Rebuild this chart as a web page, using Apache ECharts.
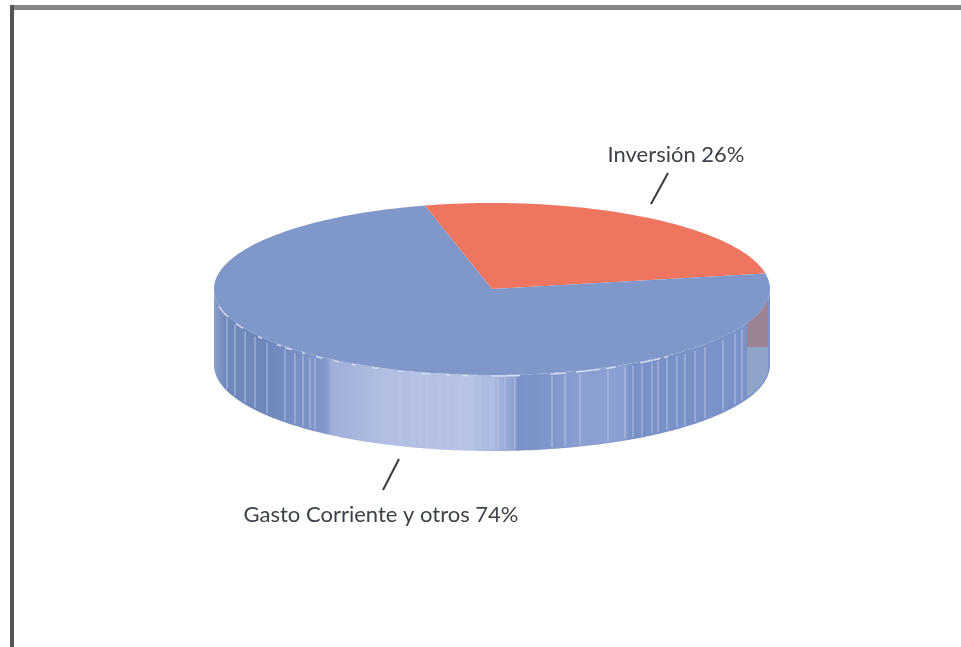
<!DOCTYPE html>
<html>
<head>
<meta charset="utf-8">
<style>
html,body{margin:0;padding:0;background:#fff;overflow:hidden}
#c{width:961px;height:647px;filter:blur(0.7px)}
</style>
<script src="https://cdn.jsdelivr.net/npm/echarts@6/dist/echarts.min.js"></script>
</head>
<body>
<div id="c"></div>
<script>
const categories = ["Inversión", "Gasto Corriente y otros"];
const shares = [26, 74];

// Layout and styling
const CX = 492, CY = 289, RX = 278, RY = 86, DEPTH = 76, START_DEG = -14;
const topColors = ["#ee7560", "#7f97c9"];
const labelAnchors = [
  {x: 676, y: 155, line: [668, 173, 651, 204]},
  {x: 381, y: 515, line: [399, 459, 383, 490]}
];
const bandStops = [
  [214,"#8a9fcb"],[226,"#7088b9"],[265,"#6e87ba"],[300,"#7990c4"],[326,"#8298ca"],
  [332,"#a0b0d9"],[356,"#a6b5dc"],[385,"#b2bfe3"],[470,"#b6c3e6"],[495,"#a6b6df"],
  [514,"#8ea2d2"],[518,"#7a91c8"],[550,"#7f96ca"],[580,"#8b9fd1"],[625,"#8a9fd1"],
  [630,"#7a91c7"],[770,"#7b92c8"]
];
const stripeXs = [227,235,245,255,267,285,295,303,310,315,400,413,420,427,440,448,460,470,480,490,
  493,498,505,515,552,565,580,608,625,633,642,652,658,667,677,685,695,705,723,735,742];
const edgeDashes = [[219,228],[236,243],[258,262],[277,281],[285,292],[302,305],[316,322],[334,339],[352,356],[372,378],
  [398,404],[422,430],[446,450],[462,468],[491,520],[550,566],[576,600],[606,616],[640,660],[664,668]];

const front = x => CY + RY * Math.sqrt(Math.max(0, 1 - ((x - CX) / RX) ** 2));
const pt = deg => {
  const r = deg * Math.PI / 180;
  return [CX + RX * Math.sin(r), CY - RY * Math.cos(r)];
};
const total = shares.reduce((a, b) => a + b, 0);

function arcPoints(a, b, dy) {
  const pts = [];
  const n = Math.ceil(Math.abs(b - a));
  for (let i = 0; i <= n; i++) {
    const p = pt(a + (b - a) * i / n);
    pts.push([p[0], p[1] + (dy || 0)]);
  }
  return pts;
}

function renderItem(params, api) {
  const i = params.dataIndex;
  let before = 0;
  for (let k = 0; k < i; k++) before += shares[k];
  const a0 = START_DEG + before / total * 360;
  const a1 = a0 + api.value(0) / total * 360;
  const children = [];

  // visible rim: part of the slice that faces the viewer (90..270 deg)
  const s0 = Math.max(a0, 90), s1 = Math.min(a1, 270);
  if (s1 > s0) {
    const w = 770 - 214;
    children.push({
      type: "polygon",
      shape: {points: arcPoints(s0, s1, 0).concat(arcPoints(s1, s0, DEPTH))},
      style: {fill: {
        type: "linear", x: 214, y: 0, x2: 770, y2: 0, global: true,
        colorStops: bandStops.map(b => ({offset: (b[0] - 214) / w, color: b[1]}))
      }}
    });
    stripeXs.forEach(x => {
      const y = front(x);
      children.push({type: "line", shape: {x1: x, y1: y + 3, x2: x, y2: y + DEPTH - 2},
        style: {stroke: "#b9c6ea", lineWidth: 1.4, opacity: 0.65}});
    });
    edgeDashes.forEach(d => {
      const pts = [];
      for (let x = d[0]; x <= d[1]; x++) pts.push([x, front(x) + 1]);
      children.push({type: "polyline", shape: {points: pts},
        style: {stroke: "#d3dcf2", lineWidth: 1.5, fill: null}});
    });
  } else {
    // slice colour that shows through the rim at the right
    const up = [], mid = [];
    for (let x = 747; x <= 768; x += 3) { up.push([x, front(x)]); mid.push([x, 347]); }
    children.push({type: "polygon", z2: 5, shape: {points: up.concat(mid.reverse())},
      style: {fill: "#a0818f", opacity: 0.9}});
    const lo = [];
    const base = [];
    for (let x = 747; x <= 768; x += 3) { lo.push([x, 347]); base.push([x, front(x) + DEPTH - 2]); }
    children.push({type: "polygon", z2: 5, shape: {points: lo.concat(base.reverse())},
      style: {fill: "#93a7c9", opacity: 0.85}});
  }

  // top face
  children.push({
    type: "polygon", z2: 3,
    shape: {points: [[CX, CY]].concat(arcPoints(a0, a1, 0))},
    style: {fill: api.visual("color")}
  });

  // label and leader
  const la = labelAnchors[i];
  children.push({type: "line", z2: 6,
    shape: {x1: la.line[0], y1: la.line[1], x2: la.line[2], y2: la.line[3]},
    style: {stroke: "#3b3b3b", lineWidth: 2}});
  children.push({type: "text", z2: 6, style: {
    x: la.x, y: la.y, text: categories[i] + " " + api.value(0) + "%",
    fill: "#3c4248", font: "22px Lato, 'Open Sans', sans-serif",
    align: "center", verticalAlign: "middle"
  }});
  return {type: "group", children};
}

const chart = echarts.init(document.getElementById("c"), null, {renderer: "canvas"});
chart.setOption({
  animation: false,
  backgroundColor: "#ffffff",
  graphic: [
    {type: "rect", shape: {x: 10, y: 5, width: 951, height: 5}, style: {fill: "#868686"}},
    {type: "rect", shape: {x: 10, y: 5, width: 4, height: 642}, style: {fill: "#555555"}}
  ],
  series: [{
    type: "custom",
    coordinateSystem: "none",
    renderItem,
    data: shares.map((v, i) => ({
      name: categories[i], value: [v],
      itemStyle: {color: topColors[i]}
    }))
  }]
});
</script>
</body>
</html>
